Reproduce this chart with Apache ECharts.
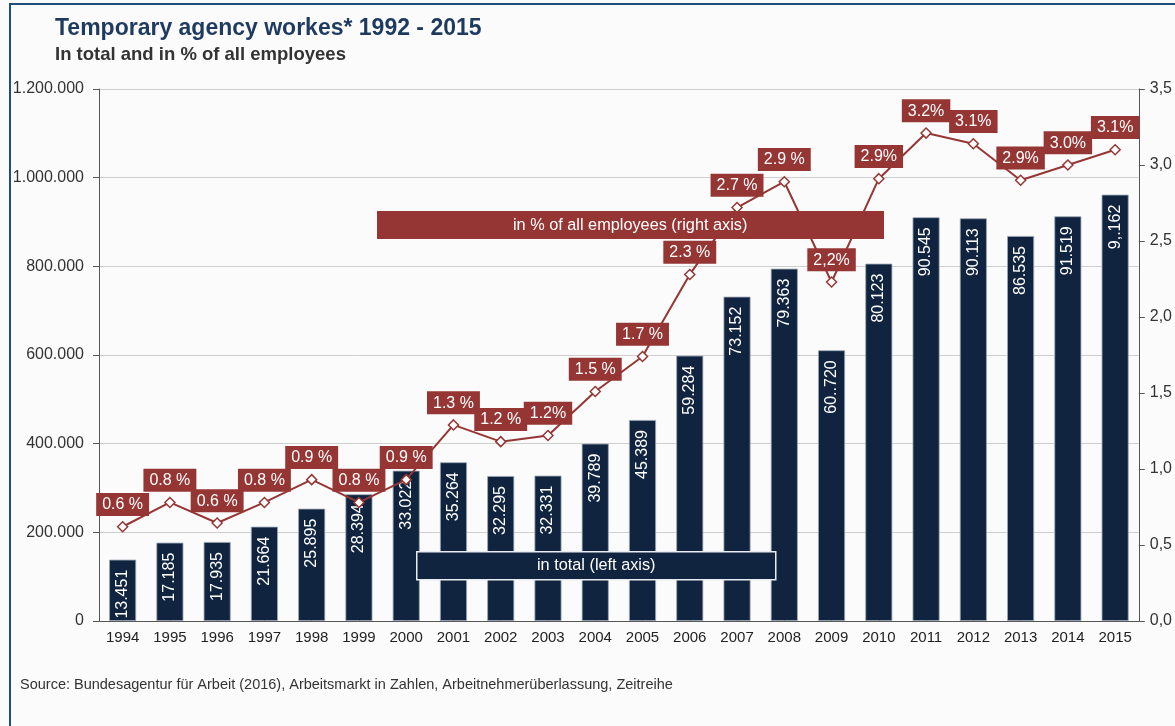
<!DOCTYPE html>
<html>
<head>
<meta charset="utf-8">
<script src="https://cdn.jsdelivr.net/npm/echarts@6/dist/echarts.min.js"></script>
<style>
html,body{margin:0;padding:0;background:#fbfbfb;}
#chart{width:1175px;height:726px;}
</style>
</head>
<body>
<div id="chart"></div>
<script>
const years = ['1994','1995','1996','1997','1998','1999','2000','2001','2002','2003','2004','2005','2006','2007','2008','2009','2010','2011','2012','2013','2014','2015'];
const totalWorkers = [138300,176600,178200,212700,253300,285800,339000,358000,327000,327800,400000,453400,598400,731500,794700,610600,806000,910600,908300,868400,912800,961600];
const totalLabels = ['13.451','17.185','17.935','21.664','25.895','28.394','33.022','35.264','32.295','32.331','39.789','45.389','59.284','73.152','79.363','60..720','80.123','90.545','90.113','86.535','91.519','9,.162'];
const sharePercent = [0.62,0.78,0.645,0.78,0.93,0.78,0.93,1.29,1.18,1.22,1.51,1.74,2.28,2.72,2.89,2.23,2.91,3.21,3.14,2.90,3.00,3.10];
const shareLabels = ['0.6 %','0.8 %','0.6 %','0.8 %','0.9 %','0.8 %','0.9 %','1.3 %','1.2 %','1.2%','1.5 %','1.7 %','2.3 %','2.7 %','2.9 %','2,2%','2.9%','3.2%','3.1%','2.9%','3.0%','3.1%'];
const leftTicks = {min:0, max:1200000, interval:200000};
const rightTicks = {min:0, max:3.5, interval:0.5};
const titleText = 'Temporary agency workes* 1992 - 2015';
const subtitleText = 'In total and in % of all employees';
const sourceText = 'Source: Bundesagentur für Arbeit (2016), Arbeitsmarkt in Zahlen, Arbeitnehmerüberlassung, Zeitreihe';
const legendLine = 'in % of all employees (right axis)';
const legendBar = 'in total (left axis)';

const FONT = '"Liberation Sans", Arial, sans-serif';
const NAVY = '#10243f';
const RED = '#963634';

function fmtThousands(v){
  return String(v).replace(/\B(?=(\d{3})+(?!\d))/g,'.');
}

const chart = echarts.init(document.getElementById('chart'), null, {renderer:'canvas'});
chart.setOption({
  backgroundColor:'#fbfbfb',
  animation:false,
  textStyle:{fontFamily:FONT},
  grid:{left:99, right:33, top:89, bottom:105, containLabel:false},
  xAxis:{
    type:'category',
    data:years,
    boundaryGap:true,
    axisLine:{lineStyle:{color:'#555', width:1}},
    axisTick:{show:true, inside:true, length:3, alignWithLabel:true, lineStyle:{color:'#333'}},
    axisLabel:{color:'#222', fontSize:15, margin:9, fontFamily:FONT}
  },
  yAxis:[
    {
      type:'value', min:leftTicks.min, max:leftTicks.max, interval:leftTicks.interval,
      axisLine:{show:true, lineStyle:{color:'#555'}},
      axisTick:{show:true, length:6, lineStyle:{color:'#555'}},
      splitLine:{show:true, lineStyle:{color:'#cfcfcf', width:1}},
      axisLabel:{color:'#333', fontSize:16, margin:15, fontFamily:FONT, formatter:fmtThousands}
    },
    {
      type:'value', min:rightTicks.min, max:rightTicks.max, interval:rightTicks.interval,
      position:'right',
      axisLine:{show:true, lineStyle:{color:'#555'}},
      axisTick:{show:true, length:6, lineStyle:{color:'#555'}},
      splitLine:{show:false},
      axisLabel:{color:'#333', fontSize:16, margin:11, fontFamily:FONT, formatter:v=>v.toFixed(1).replace('.',',')}
    }
  ],
  series:[
    {
      type:'bar',
      yAxisIndex:0,
      data:totalWorkers,
      barWidth:27,
      itemStyle:{color:NAVY, borderColor:'#9aa6b4', borderWidth:0.8},
      label:{
        show:true, position:'insideTop', distance:10, rotate:90,
        align:'right', verticalAlign:'middle',
        color:'#ffffff', fontSize:16, fontFamily:FONT,
        formatter:p=>totalLabels[p.dataIndex]
      },
      z:2
    },
    {
      type:'line',
      yAxisIndex:1,
      data:sharePercent,
      symbol:'diamond',
      symbolSize:10,
      lineStyle:{color:RED, width:2},
      itemStyle:{color:'#ffffff', borderColor:RED, borderWidth:1.5},
      label:{
        show:true, position:'top', distance:5,
        backgroundColor:RED, color:'#ffffff',
        fontSize:16, fontFamily:FONT,
        padding:[4,6,3,6],
        formatter:p=>shareLabels[p.dataIndex]
      },
      z:5
    }
  ],
  graphic:[
    {type:'rect', left:9, top:3, z:100, shape:{width:2, height:723}, style:{fill:'#1f4e79'}, silent:true},
    {type:'rect', left:9, top:3, z:100, shape:{width:1166, height:2}, style:{fill:'#1f4e79'}, silent:true},
    {type:'text', left:55, top:17, z:100, style:{text:titleText, fill:'#1f3a5f', font:'bold 23px '+FONT}},
    {type:'text', left:55, top:45, z:100, style:{text:subtitleText, fill:'#333333', font:'bold 18.5px '+FONT}},
    {type:'text', left:20, top:677, z:100, style:{text:sourceText, fill:'#333333', font:'14.5px '+FONT}},
    {type:'rect', left:377, top:211, z:100, shape:{width:507, height:28}, style:{fill:RED}},
    {type:'text', left:513, top:218, z:101, style:{text:legendLine, fill:'#ffffff', font:'16.3px '+FONT}},
    {type:'rect', left:416, top:551, z:100, shape:{width:359, height:28}, style:{fill:NAVY, stroke:'#e8ecf0', lineWidth:1.5}},
    {type:'text', left:537, top:558, z:101, style:{text:legendBar, fill:'#ffffff', font:'16.3px '+FONT}}
  ]
});
</script>
</body>
</html>
